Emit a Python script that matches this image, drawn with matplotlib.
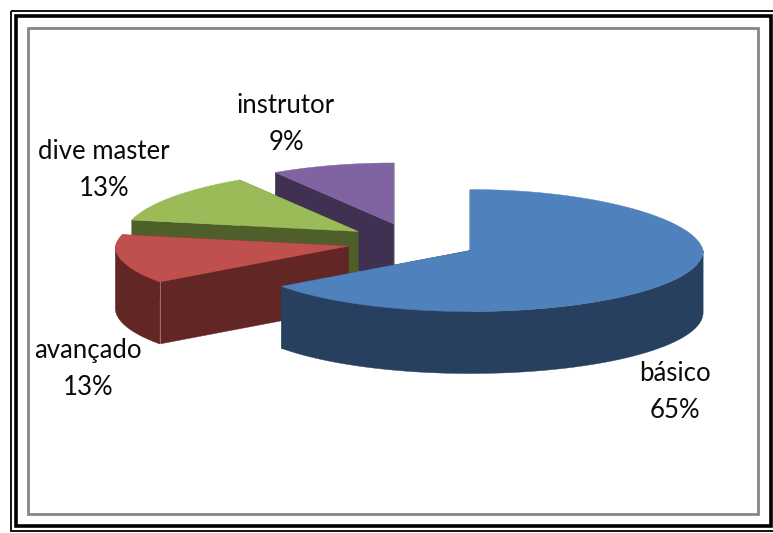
import numpy as np
import matplotlib.pyplot as plt
from matplotlib.patches import Polygon, Rectangle

plt.rcParams['font.family'] = ['Lato', 'DejaVu Sans']

# data
categories = ["básico", "avançado", "dive master", "instrutor"]
shares = [65, 13, 13, 9]

# colours (top face, wall)
top_colors = ["#4F81BD", "#C0504D", "#9BBB59", "#8064A2"]
wall_colors = ["#27405F", "#622725", "#4F5F2A", "#403152"]

# pie geometry in pixels
center_x, center_y = 412, 242
radius_x, radius_y = 233, 61
depth = 62
explode = 0.28

label_pos = [(675, 391), (88, 368), (104, 169), (286, 123)]


def arc_points(apex_x, apex_y, start, stop):
    # angles in degrees, clockwise from 12 o'clock
    a = np.radians(np.linspace(start, stop, 80))
    # slight perspective: the far side of the pie is a bit narrower
    narrow = 1 - 0.06 * np.clip(np.cos(a), 0, None)
    return apex_x + radius_x * narrow * np.sin(a), apex_y - radius_y * np.cos(a)


def draw_slice(ax, start, stop, top_color, wall_color):
    mid = np.radians((start + stop) / 2)
    apex_x = center_x + explode * radius_x * np.sin(mid)
    apex_y = center_y - explode * radius_y * 1.1 * np.cos(mid)
    x, y = arc_points(apex_x, apex_y, start, stop)

    # extruded walls first, the top face covers whatever is hidden
    for i in [0, -1]:
        wall = [(apex_x, apex_y), (x[i], y[i]), (x[i], y[i] + depth), (apex_x, apex_y + depth)]
        ax.add_patch(Polygon(wall, facecolor=wall_color, edgecolor=wall_color, lw=0.3))
    # outer wall: only the front half of the rim shows
    front_start, front_stop = max(start, 90), min(stop, 270)
    if front_start < front_stop:
        fx, fy = arc_points(apex_x, apex_y, front_start, front_stop)
        outer = np.column_stack([np.r_[fx, fx[::-1]], np.r_[fy, fy[::-1] + depth]])
        ax.add_patch(Polygon(outer, facecolor=wall_color, edgecolor=wall_color, lw=0.3))

    # pale corner line where the front wall meets the outer wall
    if 90 < start < 270:
        ax.plot([x[0], x[0]], [y[0], y[0] + depth], color="white", alpha=0.4, lw=0.6)

    top = np.column_stack([np.r_[apex_x, x], np.r_[apex_y, y]])
    ax.add_patch(Polygon(top, facecolor=top_color, edgecolor=top_color, lw=0.3))


def draw_frame(ax):
    ax.add_patch(Rectangle((28, 28), 730, 486, fill=False, edgecolor="#868686", lw=2.0))
    ax.add_patch(Rectangle((15.5, 15.5), 755.5, 510.5, fill=False, edgecolor="black", lw=2.6))
    ax.add_patch(Rectangle((11, 11), 770, 520, fill=False, edgecolor="black", lw=1.3))


fig = plt.figure(figsize=(7.73, 5.33), dpi=100)
ax = fig.add_axes([0, 0, 1, 1])
ax.set_xlim(0, 773)
ax.set_ylim(533, 0)
ax.axis("off")

draw_frame(ax)

# slice angles from the shares
edges = np.r_[0, np.cumsum(shares)] * 360 / sum(shares)

# back to front: instrutor, dive master, avançado, básico
for i in [3, 2, 1, 0]:
    draw_slice(ax, edges[i], edges[i + 1], top_colors[i], wall_colors[i])

for name, share, (px, py) in zip(categories, shares, label_pos):
    ax.text(px, py + 1, f"{name}\n{share}%", ha="center", va="center", fontsize=18.5,
            linespacing=1.6, color="#0A0A0A")

plt.savefig("out.png", dpi=100)
